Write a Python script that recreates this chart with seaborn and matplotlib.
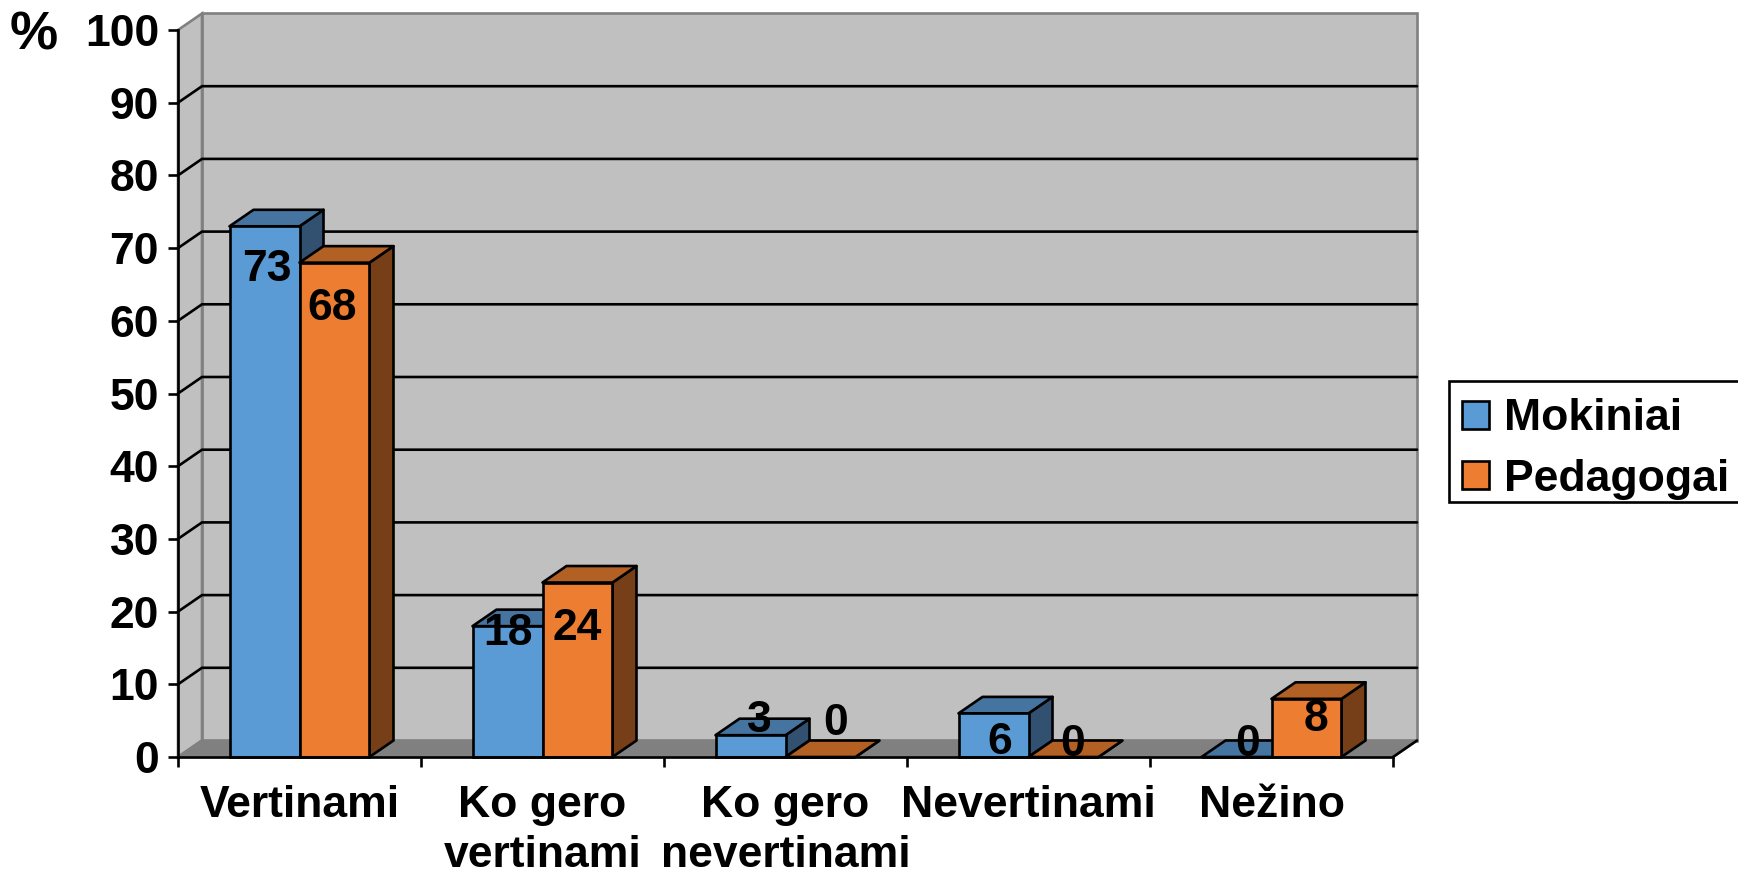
import matplotlib
matplotlib.use("Agg")
import matplotlib.pyplot as plt
import numpy as np
import pandas as pd
import seaborn as sns
from matplotlib.patches import Polygon, Rectangle

# Chart values
categories = ["Vertinami", "Ko gero\nvertinami", "Ko gero\nnevertinami", "Nevertinami", "Nežino"]
mokiniai = [73, 18, 3, 6, 0]
pedagogai = [68, 24, 0, 0, 8]
series_names = ["Mokiniai", "Pedagogai"]
y_ticks = [0, 10, 20, 30, 40, 50, 60, 70, 80, 90, 100]

# Label nudges from bar centre/top, in pixels (the original labels sit unevenly)
nudge_mokiniai = [(2, -39), (0, -3), (9, 19), (6, -25), (11, 17)]
nudge_pedagogai = [(-2, -41), (0, -41), (15, 38), (9, 17), (10, -16)]

W, H = 1738, 875
DPI = 100
LEFT, RIGHT, TOP, BOTTOM = 178, 1393, 30, 757
PX = 72 / DPI
LW = 1.9
FS = 32

colors = {"Mokiniai": "#5B9BD5", "Pedagogai": "#ED7D31"}
top_colors = {"Mokiniai": "#4674A0", "Pedagogai": "#B26024"}
side_colors = {"Mokiniai": "#325070", "Pedagogai": "#773F18"}

sns.set_theme(style="white")
plt.rcParams["font.family"] = ["Liberation Sans", "DejaVu Sans"]
plt.rcParams["font.weight"] = "bold"

df = pd.DataFrame({
    "category": categories * 2,
    "series": [series_names[0]] * 5 + [series_names[1]] * 5,
    "value": mokiniai + pedagogai,
})

fig = plt.figure(figsize=(W / DPI, H / DPI), dpi=DPI, facecolor="white")
ax = fig.add_axes([LEFT / W, 1 - BOTTOM / H, (RIGHT - LEFT) / W, (BOTTOM - TOP) / H])
ax.patch.set_alpha(0)

sns.barplot(data=df, x="category", y="value", hue="series", order=categories,
            hue_order=series_names, palette=colors, saturation=1, width=0.576,
            gap=0, edgecolor="black", linewidth=LW, legend=False, ax=ax)
ax.set_xlim(-0.5, 4.5)
ax.set_ylim(0, 100)
ax.set_xlabel("")
ax.set_ylabel("")

# 3D depth in data units
dx = 24 / ((RIGHT - LEFT) / 5)
dy = 16.5 / ((BOTTOM - TOP) / 100)
x0, x1 = -0.5, 4.5

# walls and floor
ax.add_patch(Polygon([(x0 + dx, dy), (x1 + dx, dy), (x1 + dx, 100 + dy), (x0 + dx, 100 + dy)],
                     fc="#C0C0C0", ec="#808080", lw=LW, zorder=0.5, clip_on=False))
ax.add_patch(Polygon([(x0, 0), (x0 + dx, dy), (x0 + dx, 100 + dy), (x0, 100)],
                     fc="#C0C0C0", ec="#808080", lw=LW, zorder=0.5, clip_on=False))
ax.add_patch(Polygon([(x0, 0), (x1, 0), (x1 + dx, dy), (x0 + dx, dy)],
                     fc="#808080", ec="#808080", lw=LW, zorder=0.6, clip_on=False))
ax.plot([x1, x1 + dx], [0, dy], color="black", lw=LW, zorder=0.7, clip_on=False)

# gridlines on back and side wall
for t in y_ticks[1:-1]:
    ax.plot([x0, x0 + dx, x1 + dx], [t, t + dy, t + dy], color="black", lw=LW,
            zorder=0.8, clip_on=False, solid_joinstyle="miter")

# bars: depth faces, then front, series by series so the right bar overlaps
order = 3.0
for name, container in zip(series_names, ax.containers):
    for bar in container:
        bx, bw, bh = bar.get_x(), bar.get_width(), bar.get_height()
        ax.add_patch(Polygon([(bx + bw, 0), (bx + bw + dx, dy), (bx + bw + dx, bh + dy), (bx + bw, bh)],
                             fc=side_colors[name], ec="black", lw=LW, zorder=order,
                             clip_on=False, joinstyle="round"))
        ax.add_patch(Polygon([(bx, bh), (bx + bw, bh), (bx + bw + dx, bh + dy), (bx + dx, bh + dy)],
                             fc=top_colors[name], ec="black", lw=LW, zorder=order + 0.01,
                             clip_on=False, joinstyle="round"))
        bar.set_zorder(order + 0.02)
        bar.set_clip_on(False)
        order += 0.1

# data labels
for container, vals, nudges in zip(ax.containers, [mokiniai, pedagogai],
                                   [nudge_mokiniai, nudge_pedagogai]):
    for bar, v, (nx, ny) in zip(container, vals, nudges):
        ax.annotate(str(v), (bar.get_x() + bar.get_width() / 2, v),
                    xytext=(nx * PX, ny * PX), textcoords="offset points",
                    ha="center", va="center_baseline", fontsize=FS, fontweight="bold",
                    color="black", zorder=20, annotation_clip=False)

# axes and tick labels
sns.despine(ax=ax, top=True, right=True)
for side in ["left", "bottom"]:
    ax.spines[side].set_color("black")
    ax.spines[side].set_linewidth(LW)
    ax.spines[side].set_zorder(15)
ax.set_yticks(y_ticks)
ax.set_yticklabels([str(t) for t in y_ticks])
ax.tick_params(axis="y", left=True, length=10 * PX, width=LW, color="black",
               pad=9 * PX, labelsize=FS, labelcolor="black")
ax.set_xticks(np.arange(0, 6) - 0.5)
ax.set_xticklabels([])
ax.set_xticks(np.arange(5), labels=categories, minor=True)
ax.tick_params(axis="x", which="major", bottom=True, length=10 * PX, width=LW, color="black")
ax.tick_params(axis="x", which="minor", bottom=False, length=0, pad=20, labelsize=FS,
               labelcolor="black")
for lab in ax.get_xticklabels(minor=True):
    lab.set_linespacing(1.28)
    lab.set_fontweight("bold")
for lab in ax.get_yticklabels():
    lab.set_fontweight("bold")

fig.text(34 / W, 1 - 36 / H, "%", fontsize=39, fontweight="bold", color="black",
         ha="center", va="center")

# legend box runs off the right side of the image
fig.add_artist(Rectangle((1449 / W, 1 - 502 / H), (W + 20 - 1449) / W, 121 / H,
                         transform=fig.transFigure, fc="white", ec="black", lw=LW))
leg = fig.legend(handles=[c[0] for c in ax.containers], labels=series_names,
                 loc="center left", bbox_to_anchor=(1462 / W, 1 - 449 / H),
                 frameon=False, fontsize=FS, handlelength=0.61, handleheight=0.59,
                 handletextpad=0.33, labelspacing=0.44, borderpad=0, borderaxespad=0,
                 labelcolor="black")

fig.savefig("out.png", dpi=DPI)
